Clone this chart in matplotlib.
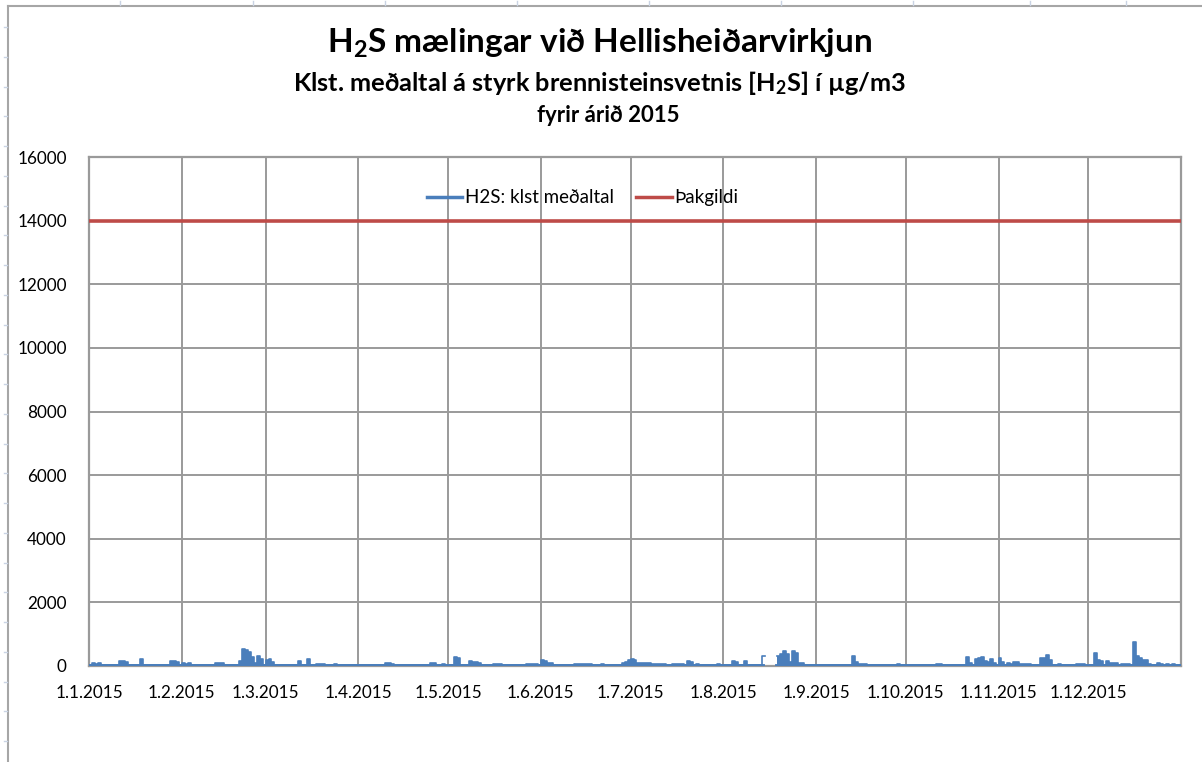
import numpy as np
import pandas as pd
import matplotlib
matplotlib.use("Agg")
import matplotlib.pyplot as plt
from matplotlib.lines import Line2D

plt.rcParams['font.family'] = ['Lato', 'DejaVu Sans']
plt.rcParams['mathtext.fontset'] = 'custom'
plt.rcParams['mathtext.rm'] = 'Lato:bold'
plt.rcParams['mathtext.it'] = 'Lato:bold'
plt.rcParams['mathtext.bf'] = 'Lato:bold'

# ---- data ----
year_start = "2015-01-01"
n_days = 365
baseline = 30.0
spike_days = [1, 2, 3, 10, 11, 12, 17, 27, 28, 29,
              31, 32, 33, 42, 43, 44, 50, 51, 52, 53, 54, 55, 56, 57, 59, 60, 61,
              70, 73, 76, 77, 78, 82,
              99, 100, 101, 114, 115, 118,
              122, 123, 127, 128, 129, 130, 135, 136, 137, 146, 147, 148, 149,
              151, 152, 153, 154, 162, 163, 164, 165, 166, 167, 171, 178, 179, 180, 181, 182,
              183, 184, 185, 186, 187, 188, 189, 190, 191, 192, 195, 196, 197, 198, 200, 201, 203, 210,
              215, 216, 219, 225, 230, 231, 232, 233, 234, 235, 236, 237, 238,
              255, 256, 257, 258, 259, 270,
              283, 284, 293, 294, 296, 297, 298, 299, 300, 301, 302,
              304, 305, 307, 308, 309, 310, 311, 312, 313, 314, 318, 319, 320, 321, 324, 330, 331, 332,
              336, 337, 338, 340, 341, 342, 343, 345, 346, 347, 349, 350, 351, 352, 353, 354, 357, 358, 360, 362]
spike_vals = [80, 70, 80, 150, 160, 120, 230, 150, 160, 120,
              100, 60, 110, 100, 110, 100, 160, 520, 500, 440, 280, 110, 300, 230, 200, 210, 120,
              160, 210, 60, 50, 60, 50,
              110, 100, 50, 80, 90, 50,
              290, 260, 150, 130, 120, 110, 50, 60, 50, 60, 50, 70, 50,
              180, 150, 100, 110, 50, 60, 50, 60, 50, 50, 70, 110, 120, 200, 230, 180,
              90, 80, 100, 100, 80, 60, 50, 60, 50, 60, 60, 50, 50, 60, 150, 140, 60, 50,
              150, 140, 160, 320, 300, 380, 470, 370, 120, 470, 420, 110, 100,
              320, 120, 70, 60, 60, 50,
              60, 50, 280, 100, 230, 260, 270, 150, 120, 220, 80,
              250, 120, 80, 60, 130, 120, 50, 60, 50, 60, 250, 260, 340, 200, 70, 60, 60, 70,
              400, 200, 150, 150, 90, 90, 80, 60, 70, 60, 760, 300, 250, 200, 200, 60, 100, 70, 60, 50]
missing_days = [226, 227, 228, 229]
limit_value = 14000
tick_labels = ["1.1.2015", "1.2.2015", "1.3.2015", "1.4.2015", "1.5.2015", "1.6.2015",
               "1.7.2015", "1.8.2015", "1.9.2015", "1.10.2015", "1.11.2015", "1.12.2015"]
y_ticks = [0, 2000, 4000, 6000, 8000, 10000, 12000, 14000, 16000]

# ---- build series ----
dates = pd.date_range(year_start, periods=n_days + 1, freq="D")
vals = np.full(n_days + 1, baseline)
for d, v in zip(spike_days, spike_vals):
    vals[d] = v
for d in missing_days:
    vals[d] = np.nan
vals[-1] = vals[-2]

W, H = 1202, 762
fig = plt.figure(figsize=(W / 100, H / 100), dpi=100)
fig.patch.set_facecolor("white")

# outer spreadsheet frame
def px(x, y):
    return x / W, 1 - y / H
frame_c = "#A6A6A6"
fig.add_artist(Line2D([px(8, 0)[0], px(8, 0)[0]], [px(0, 6)[1], 0], color=frame_c, lw=1.5))
fig.add_artist(Line2D([px(8, 0)[0], 1], [px(0, 6)[1], px(0, 6)[1]], color=frame_c, lw=1.5))
for yy in np.arange(27, 762, 29.75):
    fig.add_artist(Line2D([px(4, 0)[0], px(7, 0)[0]], [px(0, yy)[1]] * 2, color="#C9D3E3", lw=1))
for xx in [120, 253, 385, 517, 649, 781, 913, 1030, 1126]:
    fig.add_artist(Line2D([px(xx, 0)[0]] * 2, [px(0, 1)[1], px(0, 5)[1]], color="#C9D3E3", lw=1))

ax = fig.add_axes([89 / W, 1 - 666 / H, (1181 - 89) / W, (666 - 157) / H])
ax.set_xlim(dates[0], dates[-1])
ax.set_ylim(0, 16000)

grid_c = "#9A9A9A"
ax.set_yticks(y_ticks)
month_starts = pd.date_range(year_start, periods=12, freq="MS")
ax.set_xticks(month_starts)
ax.set_xticklabels(tick_labels)
ax.grid(True, color=grid_c, lw=1.4)
ax.set_axisbelow(True)
for s in ax.spines.values():
    s.set_color(grid_c)
    s.set_linewidth(1.6)
ax.tick_params(length=0, labelsize=12.3, colors="#000000")
ax.tick_params(axis="y", pad=16)
ax.tick_params(axis="x", pad=14)

blue = "#4A7EBB"
red = "#BE4B48"
ax.fill_between(dates, vals, 0, step="post", color=blue, lw=0, zorder=3)
ax.step(dates, vals, where="post", color=blue, lw=1.2, zorder=3)
ax.plot(dates, np.where(np.isnan(vals), np.nan, 0), color=blue, lw=3.5, zorder=3)
ax.axhline(limit_value, color=red, lw=2.6, zorder=4)

handles = [Line2D([], [], color=blue, lw=2.5), Line2D([], [], color=red, lw=2.5)]
ax.legend(handles, ["H2S: klst meðaltal", "Þakgildi"], loc="upper center",
          bbox_to_anchor=(0.452, 0.97), ncol=2, frameon=False, fontsize=13.5,
          handlelength=1.9, handletextpad=0.15, columnspacing=1.17)

fig.text(600 / W, 1 - 43 / H, r"H$_2$S mælingar við Hellisheiðarvirkjun", ha="center", va="center",
         fontsize=24, fontweight="bold")
fig.text(600 / W, 1 - 83 / H, r"Klst. meðaltal á styrk brennisteinsvetnis [H$_2$S] í µg/m3", ha="center",
         va="center", fontsize=18.3, fontweight="bold")
fig.text(608 / W, 1 - 116 / H, "fyrir árið 2015", ha="center", va="center", fontsize=16, fontweight="bold")

fig.savefig("out.png", dpi=100, facecolor="white")
